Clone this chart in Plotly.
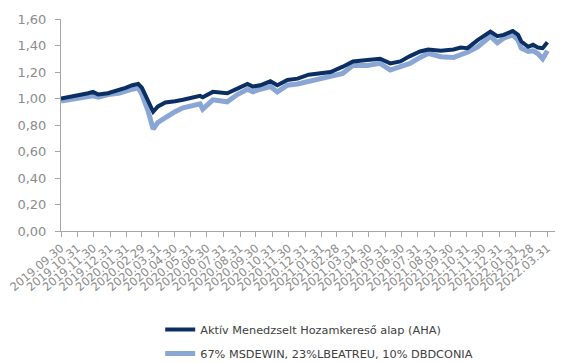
import plotly.graph_objects as go

# ── Adatok ──
DATES = [
    "2019-09-30", "2019-10-15", "2019-10-26", "2019-11-20", "2019-11-29",
    "2019-12-09", "2019-12-27", "2020-01-16", "2020-01-29", "2020-02-11",
    "2020-02-22", "2020-02-29", "2020-03-11", "2020-03-21", "2020-03-30",
    "2020-04-13", "2020-05-01", "2020-05-16", "2020-06-17", "2020-06-22",
    "2020-07-11", "2020-08-07", "2020-08-26", "2020-09-14", "2020-09-24",
    "2020-10-08", "2020-10-27", "2020-11-09", "2020-11-28", "2020-12-17",
    "2021-01-07", "2021-01-24", "2021-02-17", "2021-03-12", "2021-03-31",
    "2021-04-27", "2021-05-21", "2021-06-09", "2021-06-28", "2021-07-16",
    "2021-08-04", "2021-08-19", "2021-09-12", "2021-10-06", "2021-10-19",
    "2021-11-01", "2021-11-20", "2021-12-14", "2021-12-27", "2022-01-08",
    "2022-01-25", "2022-02-04", "2022-02-10", "2022-02-23", "2022-03-04",
    "2022-03-13", "2022-03-22", "2022-03-31",
]

AHA = [
    1.00, 1.01, 1.02, 1.04, 1.05,
    1.03, 1.04, 1.06, 1.08, 1.10,
    1.11, 1.08, 0.99, 0.90, 0.94,
    0.97, 0.98, 0.99, 1.02, 1.01,
    1.05, 1.04, 1.075, 1.11, 1.09,
    1.10, 1.13, 1.10, 1.14, 1.15,
    1.18, 1.19, 1.20, 1.24, 1.28,
    1.29, 1.30, 1.265, 1.28, 1.32,
    1.355, 1.37, 1.36, 1.37, 1.385,
    1.38, 1.44, 1.505, 1.47, 1.48,
    1.51, 1.48, 1.43, 1.39, 1.405,
    1.385, 1.38, 1.425,
]

BENCH = [
    0.98, 0.99, 1.00, 1.02, 1.02,
    1.01, 1.03, 1.04, 1.06, 1.07,
    1.08, 1.03, 0.91, 0.77, 0.82,
    0.86, 0.90, 0.93, 0.96, 0.92,
    0.99, 0.975, 1.03, 1.07, 1.05,
    1.07, 1.09, 1.05, 1.10, 1.11,
    1.13, 1.14, 1.16, 1.19, 1.25,
    1.25, 1.265, 1.215, 1.24, 1.265,
    1.31, 1.34, 1.315, 1.31, 1.33,
    1.35, 1.39, 1.47, 1.42, 1.455,
    1.48, 1.44, 1.38, 1.355, 1.36,
    1.34, 1.30, 1.36,
]

TICK_DATES = [
    "2019-09-30", "2019-10-31", "2019-11-30", "2019-12-31", "2020-01-31",
    "2020-02-29", "2020-03-31", "2020-04-30", "2020-05-31", "2020-06-30",
    "2020-07-31", "2020-08-31", "2020-09-30", "2020-10-31", "2020-11-30",
    "2020-12-31", "2021-01-31", "2021-02-28", "2021-03-31", "2021-04-30",
    "2021-05-31", "2021-06-30", "2021-07-31", "2021-08-31", "2021-09-30",
    "2021-10-31", "2021-11-30", "2021-12-31", "2022-01-31", "2022-02-28",
    "2022-03-31",
]
TICK_TEXT = [d.replace("-", ".") for d in TICK_DATES]

NAME_AHA = "Aktív Menedzselt Hozamkereső alap (AHA)"
NAME_BENCH = "67% MSDEWIN, 23%LBEATREU, 10% DBDCONIA"

DARK = "#0b2f63"
LIGHT = "#8aa6d4"
GREY = "#8c8c8c"
FONT = "DejaVu Sans"

fig = go.Figure()

fig.add_trace(go.Scatter(
    x=DATES, y=BENCH, mode="lines", name=NAME_BENCH,
    line=dict(color=LIGHT, width=5), legendrank=2, legendgroup="b",
))
fig.add_trace(go.Scatter(
    x=DATES, y=AHA, mode="lines", name=NAME_AHA,
    line=dict(color=DARK, width=4), legendrank=1, legendgroup="a",
))

# az oldal body-margója (8px) miatt a margók 8px-lel kisebbek;
# a magasság kicsit nagyobb, hogy a jelmagyarázat ne tolja el a rajzterületet
fig.update_layout(
    width=563, height=380,
    margin=dict(l=53, r=14, t=11, b=157),
    paper_bgcolor="white", plot_bgcolor="white",
    separators=", ",
    font=dict(family=FONT, color="#7f7f7f"),
    showlegend=True,
    legend=dict(
        x=0.2, y=-0.396, xanchor="left", yanchor="top",
        orientation="v", tracegroupgap=5,
        font=dict(size=11.3, color="#404040", family=FONT),
        bgcolor="rgba(0,0,0,0)",
    ),
    xaxis=dict(
        type="date",
        range=["2019-09-30", "2022-04-18"],
        tickvals=TICK_DATES, ticktext=TICK_TEXT,
        tickangle=-40, tickfont=dict(size=11.5, color=GREY),
        ticklabeloverflow="allow", automargin=False,
        showgrid=False, zeroline=False,
        showline=True, linecolor="#a6a6a6", linewidth=1,
        ticks="outside", ticklen=5, tickcolor="#a6a6a6",
    ),
    yaxis=dict(
        range=[0, 1.6], dtick=0.2, tickformat=".2f",
        tickfont=dict(size=13, color=GREY),
        automargin=False,
        showgrid=False, zeroline=False,
        showline=True, linecolor="#a6a6a6", linewidth=1,
        ticks="outside", ticklen=5, tickcolor="#a6a6a6",
        ticklabelstandoff=6,
    ),
)

fig.write_html("out.html")
